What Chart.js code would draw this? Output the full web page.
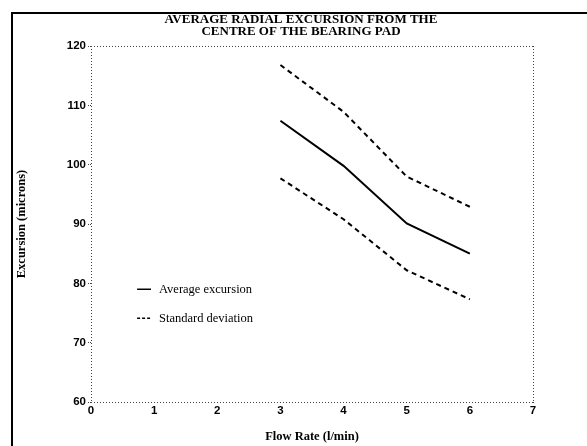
<!DOCTYPE html>
<html>
<head>
<meta charset="utf-8">
<script src="https://cdn.jsdelivr.net/npm/chart.js@4.4.0/dist/chart.umd.min.js"></script>
<style>
  html, body { margin: 0; padding: 0; background: #fff; overflow: hidden; }
  #wrap { position: relative; width: 587px; height: 446px; }
  #frame { position: absolute; left: 11px; top: 12px; width: 700px; height: 500px; border-left: 2px solid #000; border-top: 2px solid #000; }
  canvas { position: absolute; left: 0; top: 0; }
</style>
</head>
<body>
<div id="wrap">
  <div id="frame"></div>
  <canvas id="chart" width="587" height="446"></canvas>
</div>
<script>
var flowRates = [3, 4, 5, 6];
var avgExcursion = [107.4, 99.8, 90.1, 85.0];
var upperDev = [116.8, 108.9, 98.0, 92.9];
var lowerDev = [97.7, 90.8, 82.2, 77.3];
var xTicks = [0, 1, 2, 3, 4, 5, 6, 7];
var yTicks = [60, 70, 80, 90, 100, 110, 120];
var titleLines = ['AVERAGE RADIAL EXCURSION FROM THE', 'CENTRE OF THE BEARING PAD'];

function pts(ys) {
  var out = [];
  for (var i = 0; i < flowRates.length; i++) out.push({ x: flowRates[i], y: ys[i] });
  return out;
}

var serif = '"Liberation Serif", "DejaVu Serif", serif';
var sans = '"Liberation Sans", Arial, sans-serif';

var extras = {
  id: 'extras',
  afterDraw: function(chart) {
    var ctx = chart.ctx;
    var xs = chart.scales.x, ys = chart.scales.y;
    ctx.save();
    ctx.fillStyle = '#000';
    ctx.font = 'bold 13px ' + serif;
    ctx.textAlign = 'center';
    ctx.textBaseline = 'middle';
    ctx.fillText(titleLines[0], 301, 20);
    ctx.fillText(titleLines[1], 301, 32);

    // legend
    var lx0 = xs.getPixelForValue(0.73), lx1 = xs.getPixelForValue(0.95);
    var yA = ys.getPixelForValue(79.0), yS = ys.getPixelForValue(74.1);
    ctx.strokeStyle = '#000';
    ctx.lineWidth = 1.5;
    ctx.beginPath(); ctx.moveTo(lx0, yA); ctx.lineTo(lx1, yA); ctx.stroke();
    ctx.setLineDash([3, 2]);
    ctx.beginPath(); ctx.moveTo(lx0, yS); ctx.lineTo(lx1, yS); ctx.stroke();
    ctx.setLineDash([]);
    ctx.font = '12.5px ' + serif;
    ctx.textAlign = 'left';
    ctx.fillText('Average excursion', lx1 + 8, yA);
    ctx.fillText('Standard deviation', lx1 + 8, yS);
    ctx.restore();
  }
};

new Chart(document.getElementById('chart'), {
  type: 'line',
  data: {
    datasets: [
      { label: 'Average excursion', data: pts(avgExcursion), borderColor: '#000', borderWidth: 2, pointRadius: 0, tension: 0 },
      { label: 'Standard deviation', data: pts(upperDev), borderColor: '#000', borderWidth: 2, borderDash: [5, 4], pointRadius: 0, tension: 0 },
      { label: 'Standard deviation (lower)', data: pts(lowerDev), borderColor: '#000', borderWidth: 2, borderDash: [5, 4], pointRadius: 0, tension: 0 }
    ]
  },
  options: {
    responsive: false,
    animation: false,
    layout: { padding: { left: 12, top: 46, right: 54, bottom: 2 } },
    plugins: { legend: { display: false }, title: { display: false }, tooltip: { enabled: false } },
    scales: {
      x: {
        type: 'linear', min: 0, max: 7,
        afterBuildTicks: function(s) { s.ticks = xTicks.map(function(v) { return { value: v }; }); },
        afterFit: function(s) { s.height = 42; },
        border: { display: false, dash: [1, 2] },
        grid: {
          color: function(c) { return c.tick && (c.tick.value === 7 || c.tick.value === 0) ? '#444' : 'rgba(0,0,0,0)'; },
          tickColor: '#444', tickLength: 2, lineWidth: 1, tickBorderDash: [1, 1]
        },
        ticks: { color: '#000', padding: 0, font: { family: sans, size: 11.5, weight: 'bold' } },
        title: { display: true, text: 'Flow Rate (l/min)', color: '#000', padding: { top: 0, bottom: 0 }, font: { family: serif, size: 12.5, weight: 'bold' } }
      },
      y: {
        type: 'linear', min: 60, max: 120,
        afterBuildTicks: function(s) { s.ticks = yTicks.map(function(v) { return { value: v }; }); },
        afterFit: function(s) { s.width = 79; },
        border: { display: false, dash: [1, 2] },
        grid: {
          color: function(c) { return c.tick && (c.tick.value === 120 || c.tick.value === 60) ? '#444' : 'rgba(0,0,0,0)'; },
          tickColor: '#444', tickLength: 3, lineWidth: 1, tickBorderDash: [1, 1]
        },
        ticks: { color: '#000', padding: 2, font: { family: sans, size: 11.5, weight: 'bold' } },
        title: { display: true, text: 'Excursion (microns)', color: '#000', padding: { top: 2, bottom: 0 }, font: { family: serif, size: 12.5, weight: 'bold' } }
      }
    }
  },
  plugins: [extras]
});
</script>
</body>
</html>
